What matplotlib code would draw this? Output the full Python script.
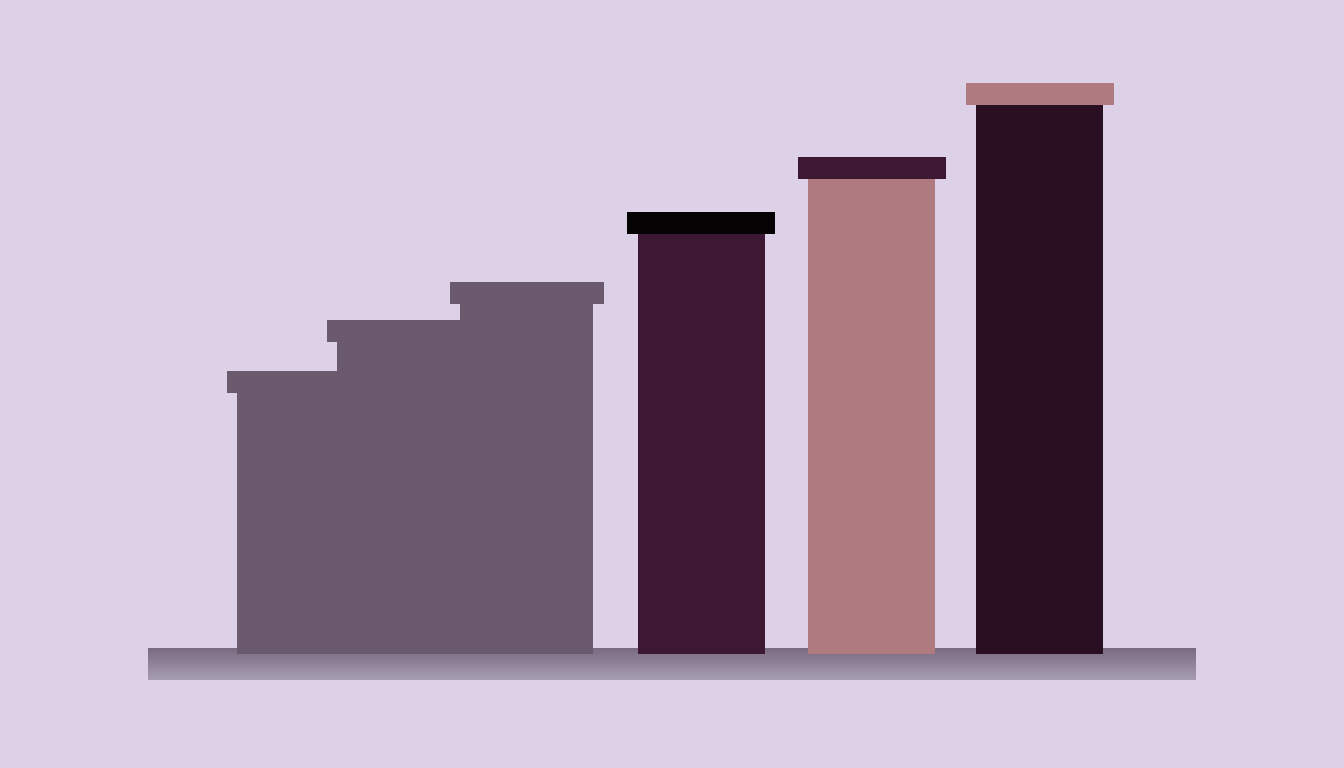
import numpy as np
import matplotlib
matplotlib.use("Agg")
import matplotlib.pyplot as plt

# ---- data ----
categories = ["A", "B", "C", "D", "E", "F"]
values = [26.1, 31.2, 35.0, 42.0, 47.5, 54.9]          # body heights
body_colors = ["#6b5a6d", "#6b5a6d", "#6b5a6d", "#3d1833", "#b07b80", "#2a0f22"]
cap_colors = ["#6b5a6d", "#6b5a6d", "#6b5a6d", "#050304", "#3d1833", "#b07b80"]

# ---- layout / style ----
x_pos = [287, 398.5, 526.5, 701, 871.5, 1039.5]
widths = [100, 123, 133, 127, 127, 127]
cap_over = 10.5
cap_h = 2.2
bg = "#ddd1e7"

fig = plt.figure(figsize=(13.44, 7.68), dpi=100, facecolor=bg)
ax = fig.add_axes([0, 0, 1, 1])
ax.set_facecolor(bg)
ax.set_xlim(0, 1344)
ax.set_ylim(-11.4, 65.4)
ax.axis("off")

# platform with vertical gradient
grad = np.linspace(0, 1, 64).reshape(-1, 1)
from matplotlib.colors import LinearSegmentedColormap
cmap = LinearSegmentedColormap.from_list("plat", ["#7a6b81", "#a79db2"])
ax.imshow(grad, extent=(148, 1196, -2.6, 0.6), origin="upper", cmap=cmap,
          aspect="auto", zorder=1)

for i in range(len(values)):
    ax.bar(x_pos[i], values[i], width=widths[i], bottom=0, color=body_colors[i],
           linewidth=0, zorder=2 + 2 * i)
    ax.bar(x_pos[i], cap_h, width=widths[i] + 2 * cap_over, bottom=values[i],
           color=cap_colors[i], linewidth=0, zorder=3 + 2 * i)

fig.savefig("out.png", dpi=100, facecolor=bg)
